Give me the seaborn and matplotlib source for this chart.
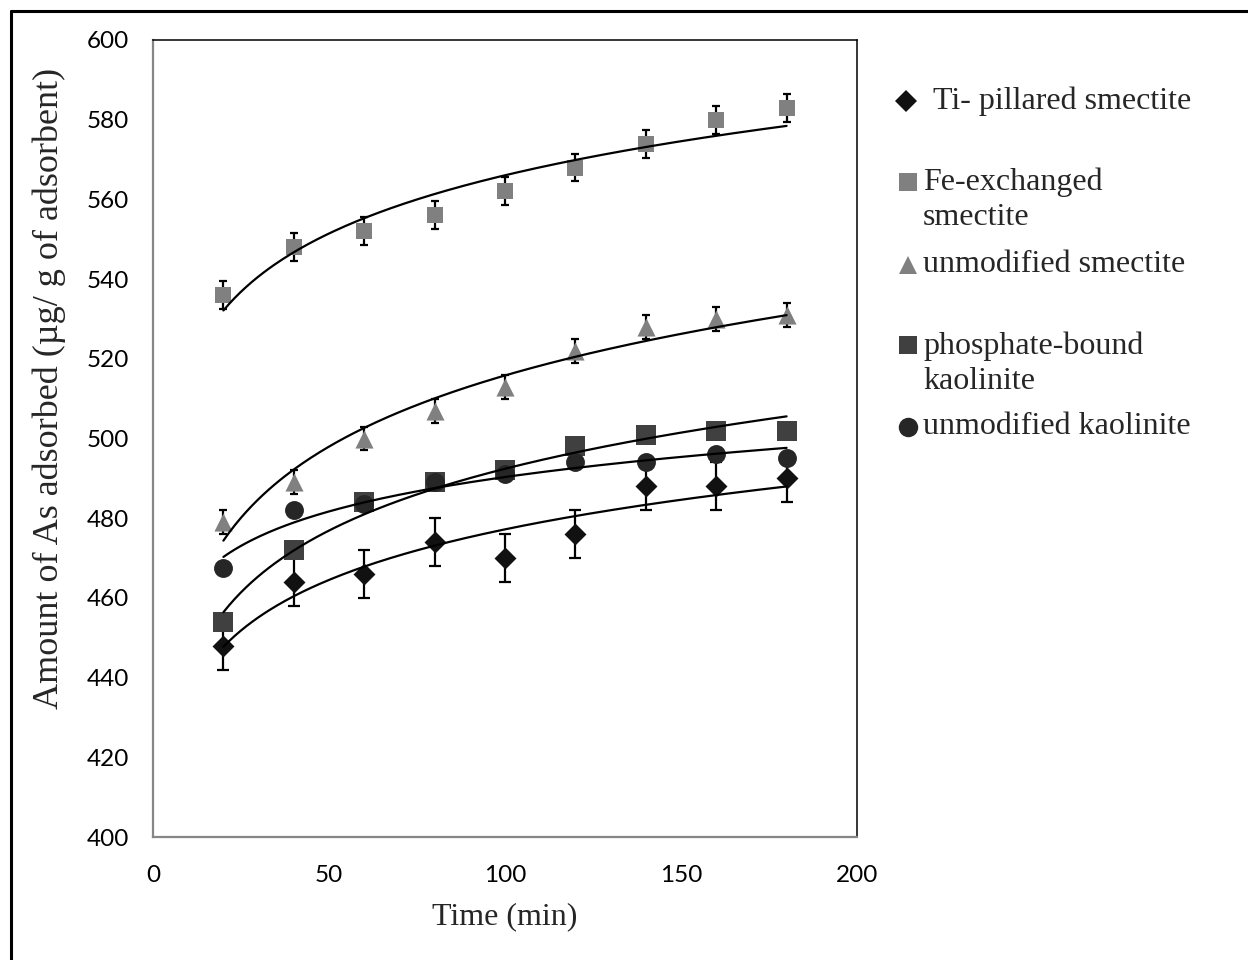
import numpy as np
import pandas as pd
import seaborn as sns
import matplotlib.pyplot as plt
from matplotlib.lines import Line2D

# data
time_min = [20, 40, 60, 80, 100, 120, 140, 160, 180]
ti_pillared = [448, 464, 466, 474, 470, 476, 488, 488, 490]
fe_exchanged = [536, 548, 552, 556, 562, 568, 574, 580, 583]
unmod_smectite = [479, 489, 500, 507, 513, 522, 528, 530, 531]
phosphate_kaol = [454, 472, 484, 489, 492, 498, 501, 502, 502]
unmod_kaol = [467.5, 482, 483.5, 489, 491, 494, 494, 496, 495]
ti_err = 6
fe_err = 3.5
smectite_err = 3

labels = ["Ti- pillared smectite", "Fe-exchanged\nsmectite", "unmodified smectite",
          "phosphate-bound\nkaolinite", "unmodified kaolinite"]

sns.set_style("white")
plt.rcParams['font.family'] = ['Lato', 'DejaVu Sans']

W, H = 1248, 960
fig = plt.figure(figsize=(W / 100, H / 100), dpi=100)
ax = fig.add_axes([153 / W, 1 - 837 / H, (857 - 153) / W, (837 - 40) / H])

series = [
    (ti_pillared, "D", "#111111", 125, ti_err, 4.5),
    (fe_exchanged, "s", "#808080", 135, fe_err, 3.2),
    (unmod_smectite, "^", "#808080", 170, smectite_err, 3.2),
    (phosphate_kaol, "s", "#404040", 200, None, 0),
    (unmod_kaol, "o", "#262626", 185, None, 0),
]

for vals, mk, col, size, err, cap in series:
    if err is not None:
        ax.errorbar(time_min, vals, yerr=err, fmt="none", ecolor="black",
                    elinewidth=1.6, capsize=cap, capthick=1.6, zorder=2)
    df = pd.DataFrame({"t": time_min, "v": vals})
    sns.scatterplot(data=df, x="t", y="v", marker=mk, color=col, s=size,
                    linewidth=0, ax=ax, zorder=3)

# logarithmic trend lines
xs = np.linspace(20, 180, 200)
for vals, *_ in series:
    b, a = np.polyfit(np.log(time_min), vals, 1)
    ax.plot(xs, a + b * np.log(xs), color="black", lw=1.6, zorder=4)

ax.set_xlim(0, 200)
ax.set_ylim(400, 600)
ax.set_xticks([0, 50, 100, 150, 200])
ax.set_yticks(np.arange(400, 601, 20))
ax.tick_params(axis="both", direction="out", length=6, width=1.2, color="#868686",
               labelsize=17.5, labelcolor="black")
ax.tick_params(axis="y", pad=11)
ax.tick_params(axis="x", pad=14)
for side in ["left", "bottom"]:
    ax.spines[side].set_color("#868686")
    ax.spines[side].set_linewidth(1.6)
for side in ["top", "right"]:
    ax.spines[side].set_color("black")
    ax.spines[side].set_linewidth(1.1)

serif = ["Liberation Serif", "DejaVu Serif"]
ax.set_xlabel("Time (min)", fontsize=23, family=serif)
ax.set_ylabel("Amount of As adsorbed (µg/ g of adsorbent)", fontsize=26, family=serif)
ax.xaxis.set_label_coords(0.5, -0.082)
ax.yaxis.set_label_coords(-0.123, 0.563)

# legend drawn by hand to keep the original spacing
leg = [
    ("D", "#111111", 11, 906, 101, 933, 101),
    ("s", "#808080", 13, 908, 182, 923, 200),
    ("^", "#808080", 13, 908, 265, 923, 264),
    ("s", "#404040", 13, 908, 345, 923, 364),
    ("o", "#262626", 14, 908, 427, 923, 427),
]
for (mk, col, ms, mx, my, tx, ty), lab in zip(leg, labels):
    fig.add_artist(Line2D([mx / W], [1 - my / H], marker=mk, color=col, markersize=ms,
                          markeredgewidth=0, linestyle="none", transform=fig.transFigure))
    fig.text(tx / W, 1 - ty / H, lab, fontsize=23, family=serif, va="center", ha="left",
             linespacing=1.27)

# outer frame (only left and top edges visible in the reference)
fig.add_artist(Line2D([11 / W, 11 / W], [0, 1 - 11 / H], color="black", lw=2.2,
                      transform=fig.transFigure))
fig.add_artist(Line2D([11 / W, 1], [1 - 11 / H, 1 - 11 / H], color="black", lw=2.2,
                      transform=fig.transFigure))

fig.savefig("out.png", dpi=100)
